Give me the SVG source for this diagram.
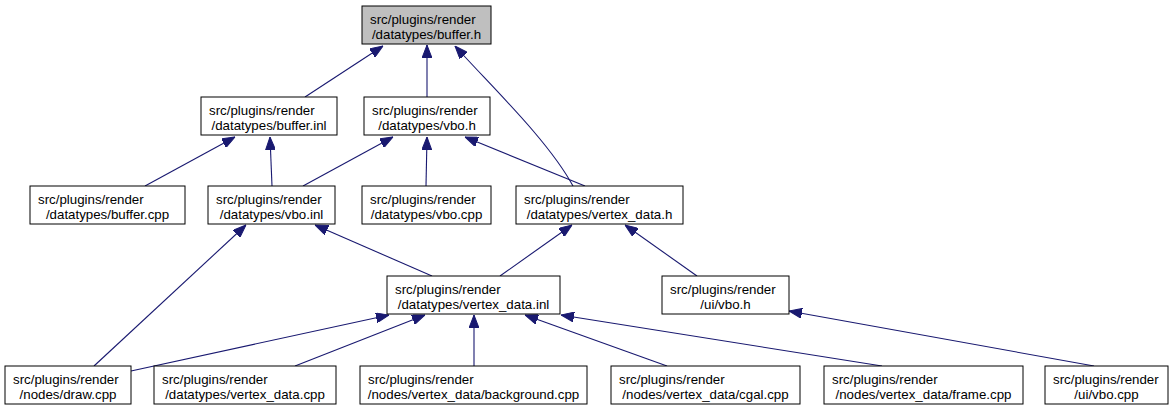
<svg xmlns="http://www.w3.org/2000/svg" width="1173" height="416" viewBox="0 0 1173 416">
<style>
.n rect{fill:#fff;stroke:#000;stroke-width:1}
.n.root rect{fill:#bfbfbf}
.n text{font-family:"Liberation Sans",Arial,sans-serif;font-size:13.3px;fill:#000}
.n text.c{text-anchor:middle}
#edges path{fill:none;stroke:#191970;stroke-width:1.1;marker-end:url(#ah)}
</style>
<defs>
<marker id="ah" markerUnits="userSpaceOnUse" viewBox="0 0 13 10" markerWidth="13" markerHeight="10" refX="13" refY="5" orient="auto">
<polygon points="0,0 13,5 0,10" fill="#191970" stroke="#191970"/>
</marker>
</defs>
<rect width="1173" height="416" fill="#fff"/>
<g id="edges">
<path d="M305,97 L383,46"/>
<path d="M427,97 L427,45"/>
<path d="M573,186 C548,140 490,85 455,46"/>
<path d="M145,186 L235,137"/>
<path d="M272,186 L270,137"/>
<path d="M303,186 L393,137"/>
<path d="M426,186 L427,137"/>
<path d="M585,186 L465,137"/>
<path d="M432,276 L315,225"/>
<path d="M500,276 L572,225"/>
<path d="M697,276 L625,225"/>
<path d="M94,366 L246,225"/>
<path d="M131,371 L389,315"/>
<path d="M295,366 L425,315"/>
<path d="M474,366 L474,315"/>
<path d="M667,366 L525,315"/>
<path d="M882,366 L561,315"/>
<path d="M1094,366 L789,311"/>
</g>
<g id="buffer_h" class="n root"><rect x="362" y="6" width="129" height="38"/><text x="370" y="23.5">src/plugins/render</text><text class="c" x="426.5" y="39">/datatypes/buffer.h</text></g>
<g id="buffer_inl" class="n"><rect x="201" y="97" width="136" height="38"/><text x="209" y="114.5">src/plugins/render</text><text class="c" x="269" y="130">/datatypes/buffer.inl</text></g>
<g id="vbo_h" class="n"><rect x="364" y="97" width="126" height="38"/><text x="372" y="114.5">src/plugins/render</text><text class="c" x="427" y="130">/datatypes/vbo.h</text></g>
<g id="buffer_cpp" class="n"><rect x="30" y="186" width="155" height="38"/><text x="38" y="203.5">src/plugins/render</text><text class="c" x="107.5" y="219">/datatypes/buffer.cpp</text></g>
<g id="vbo_inl" class="n"><rect x="208" y="186" width="127" height="38"/><text x="216" y="203.5">src/plugins/render</text><text class="c" x="271.5" y="219">/datatypes/vbo.inl</text></g>
<g id="vbo_cpp" class="n"><rect x="362" y="186" width="129" height="38"/><text x="370" y="203.5">src/plugins/render</text><text class="c" x="426.5" y="219">/datatypes/vbo.cpp</text></g>
<g id="vertex_data_h" class="n"><rect x="516" y="186" width="167" height="38"/><text x="524" y="203.5">src/plugins/render</text><text class="c" x="599.5" y="219">/datatypes/vertex_data.h</text></g>
<g id="vertex_data_inl" class="n"><rect x="387" y="276" width="173" height="38"/><text x="395" y="293.5">src/plugins/render</text><text class="c" x="473.5" y="309">/datatypes/vertex_data.inl</text></g>
<g id="ui_vbo_h" class="n"><rect x="662" y="276" width="127" height="38"/><text x="670" y="293.5">src/plugins/render</text><text class="c" x="725.5" y="309">/ui/vbo.h</text></g>
<g id="draw_cpp" class="n"><rect x="5" y="366" width="126" height="38"/><text x="13" y="383.5">src/plugins/render</text><text class="c" x="68" y="399">/nodes/draw.cpp</text></g>
<g id="vertex_data_cpp" class="n"><rect x="154" y="366" width="182" height="38"/><text x="162" y="383.5">src/plugins/render</text><text class="c" x="245" y="399">/datatypes/vertex_data.cpp</text></g>
<g id="background_cpp" class="n"><rect x="360" y="366" width="227" height="38"/><text x="368" y="383.5">src/plugins/render</text><text class="c" x="473.5" y="399">/nodes/vertex_data/background.cpp</text></g>
<g id="cgal_cpp" class="n"><rect x="611" y="366" width="189" height="38"/><text x="619" y="383.5">src/plugins/render</text><text class="c" x="705.5" y="399">/nodes/vertex_data/cgal.cpp</text></g>
<g id="frame_cpp" class="n"><rect x="824" y="366" width="199" height="38"/><text x="832" y="383.5">src/plugins/render</text><text class="c" x="923.5" y="399">/nodes/vertex_data/frame.cpp</text></g>
<g id="ui_vbo_cpp" class="n"><rect x="1045" y="366" width="123" height="38"/><text x="1053" y="383.5">src/plugins/render</text><text class="c" x="1106.5" y="399">/ui/vbo.cpp</text></g>
</svg>
